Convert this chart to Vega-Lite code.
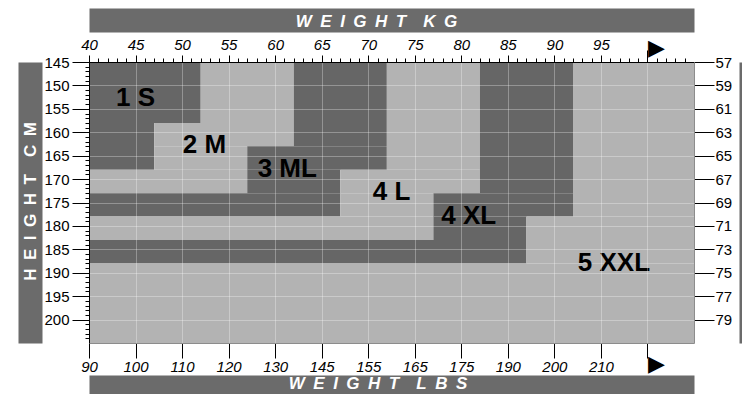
{
  "$schema": "https://vega.github.io/schema/vega-lite/v6.json",
  "width": 605,
  "height": 281,
  "autosize": "none",
  "padding": {"left": 89, "top": 62, "right": 48, "bottom": 51},
  "background": "white",
  "config": {
    "view": {"stroke": null},
    "axis": {"labelFont": "Liberation Sans", "titleFont": "Liberation Sans", "labelColor": "black", "labelFlush": false, "labelOverlap": false, "labelBound": false}
  },
  "datasets": {
    "regions": [
      {"size": "1 S", "shade": "dark", "x0": 40, "x1": 52, "y0": 145, "y1": 158},
      {"size": "1 S", "shade": "dark", "x0": 40, "x1": 47, "y0": 158, "y1": 168},
      {"size": "2 M", "shade": "light", "x0": 52, "x1": 62, "y0": 145, "y1": 158},
      {"size": "2 M", "shade": "light", "x0": 47, "x1": 62, "y0": 158, "y1": 163},
      {"size": "2 M", "shade": "light", "x0": 47, "x1": 57, "y0": 163, "y1": 168},
      {"size": "2 M", "shade": "light", "x0": 40, "x1": 57, "y0": 168, "y1": 173},
      {"size": "3 ML", "shade": "dark", "x0": 62, "x1": 72, "y0": 145, "y1": 163},
      {"size": "3 ML", "shade": "dark", "x0": 57, "x1": 72, "y0": 163, "y1": 168},
      {"size": "3 ML", "shade": "dark", "x0": 57, "x1": 67, "y0": 168, "y1": 173},
      {"size": "3 ML", "shade": "dark", "x0": 40, "x1": 67, "y0": 173, "y1": 178},
      {"size": "4 L", "shade": "light", "x0": 72, "x1": 82, "y0": 145, "y1": 168},
      {"size": "4 L", "shade": "light", "x0": 67, "x1": 82, "y0": 168, "y1": 173},
      {"size": "4 L", "shade": "light", "x0": 67, "x1": 77, "y0": 173, "y1": 178},
      {"size": "4 L", "shade": "light", "x0": 40, "x1": 77, "y0": 178, "y1": 183},
      {"size": "4 XL", "shade": "dark", "x0": 82, "x1": 92, "y0": 145, "y1": 173},
      {"size": "4 XL", "shade": "dark", "x0": 77, "x1": 92, "y0": 173, "y1": 178},
      {"size": "4 XL", "shade": "dark", "x0": 77, "x1": 87, "y0": 178, "y1": 183},
      {"size": "4 XL", "shade": "dark", "x0": 40, "x1": 87, "y0": 183, "y1": 188},
      {"size": "5 XXL", "shade": "light", "x0": 92, "x1": 105, "y0": 145, "y1": 178},
      {"size": "5 XXL", "shade": "light", "x0": 87, "x1": 105, "y0": 178, "y1": 188},
      {"size": "5 XXL", "shade": "light", "x0": 40, "x1": 105, "y0": 188, "y1": 205}
    ],
    "labels": [
      {"label": "1 S", "x": 45.0, "y": 152.7},
      {"label": "2 M", "x": 52.4, "y": 162.8},
      {"label": "3 ML", "x": 61.3, "y": 167.8},
      {"label": "4 L", "x": 72.5, "y": 172.8},
      {"label": "4 XL", "x": 80.8, "y": 177.9},
      {"label": "5 XXL", "x": 96.4, "y": 188.0}
    ]
  },
  "resolve": {"axis": {"x": "independent", "y": "independent"}},
  "layer": [
    {
      "data": {"name": "regions"},
      "mark": {"type": "rect"},
      "encoding": {
        "x": {
          "field": "x0", "type": "quantitative",
          "scale": {"domain": [40, 105], "nice": false, "zero": false},
          "axis": {
            "orient": "top", "title": null, "zindex": 1,
            "values": [40,41,42,43,44,45,46,47,48,49,50,51,52,53,54,55,56,57,58,59,60,61,62,63,64,65,66,67,68,69,70,71,72,73,74,75,76,77,78,79,80,81,82,83,84,85,86,87,88,89,90,91,92,93,94,95,96,97,98,99,100,101,102,103,104],
            "domain": true, "domainColor": "black", "domainWidth": 1,
            "ticks": true, "tickColor": "black", "tickWidth": 1,
            "tickSize": {"condition": [{"test": "datum.value == 100", "value": 12}, {"test": "datum.value % 5 == 0", "value": 7}], "value": 4},
            "labelExpr": "datum.value == 100 ? '▶' : (datum.value % 5 == 0 && datum.value <= 95 ? datum.label : '')",
            "labelFontSize": {"condition": {"test": "datum.value == 100", "value": 22}, "value": 15},
            "labelFontStyle": {"condition": {"test": "datum.value == 100", "value": "normal"}, "value": "italic"},
            "labelAlign": {"condition": {"test": "datum.value == 100", "value": "left"}, "value": "center"},
            "labelBaseline": {"condition": {"test": "datum.value == 100", "value": "middle"}, "value": "alphabetic"},
            "labelPadding": {"condition": {"test": "datum.value == 100", "value": 3}, "value": 6},
            "grid": true, "gridColor": "white", "gridWidth": 1,
            "gridOpacity": {"condition": {"test": "datum.value % 5 == 0 && datum.value > 40", "value": 0.3}, "value": 0}
          }
        },
        "x2": {"field": "x1"},
        "y": {
          "field": "y0", "type": "quantitative",
          "scale": {"domain": [145, 205], "reverse": true, "nice": false, "zero": false},
          "axis": {
            "orient": "left", "title": null, "zindex": 1,
            "values": [145,146,147,148,149,150,151,152,153,154,155,156,157,158,159,160,161,162,163,164,165,166,167,168,169,170,171,172,173,174,175,176,177,178,179,180,181,182,183,184,185,186,187,188,189,190,191,192,193,194,195,196,197,198,199,200,201,202,203,204],
            "domain": true, "domainColor": "black", "domainWidth": 1,
            "ticks": true, "tickColor": "black", "tickWidth": 1,
            "tickSize": {"condition": {"test": "datum.value % 5 == 0", "value": 17}, "value": 4},
            "labelExpr": "datum.value % 5 == 0 && datum.value <= 200 ? datum.label : ''",
            "labelFontSize": 15,
            "labelPadding": 3,
            "grid": true, "gridColor": "white", "gridWidth": 1,
            "gridOpacity": {"condition": {"test": "datum.value % 5 == 0 && datum.value > 145", "value": 0.3}, "value": 0}
          }
        },
        "y2": {"field": "y1"},
        "color": {
          "field": "shade", "type": "nominal", "legend": null,
          "scale": {"domain": ["dark", "light"], "range": ["#666666", "#b3b3b3"]}
        }
      }
    },
    {
      "data": {"name": "labels"},
      "mark": {"type": "text", "font": "Liberation Sans", "fontWeight": "bold", "fontSize": 26, "color": "black", "align": "center", "baseline": "middle"},
      "encoding": {
        "x": {
          "field": "x", "type": "quantitative",
          "scale": {"domain": [40, 105], "nice": false, "zero": false},
          "axis": {
            "orient": "bottom", "title": null, "zindex": 1,
            "values": [40,45,50,55,60,65,70,75,80,85,90,95,100],
            "domain": true, "domainColor": "#8c8c8c", "domainWidth": 1,
            "ticks": true, "tickColor": "black", "tickWidth": 1, "tickSize": 15,
            "labelExpr": "['90','100','110','120','130','145','155','165','175','190','200','210','▶'][round((datum.value - 40) / 5)]",
            "labelFontSize": {"condition": {"test": "datum.value == 100", "value": 22}, "value": 15},
            "labelFontStyle": {"condition": {"test": "datum.value == 100", "value": "normal"}, "value": "italic"},
            "labelAlign": {"condition": {"test": "datum.value == 100", "value": "left"}, "value": "center"},
            "labelBaseline": {"condition": {"test": "datum.value == 100", "value": "middle"}, "value": "top"},
            "labelPadding": {"condition": {"test": "datum.value == 100", "value": 5}, "value": 1},
            "grid": false
          }
        },
        "y": {
          "field": "y", "type": "quantitative",
          "scale": {"domain": [145, 205], "reverse": true, "nice": false, "zero": false},
          "axis": {
            "orient": "right", "title": null, "zindex": 1,
            "values": [145,150,155,160,165,170,175,180,185,190,195,200],
            "domain": true, "domainColor": "#8c8c8c", "domainWidth": 1,
            "ticks": true, "tickColor": "black", "tickWidth": 1, "tickSize": 20,
            "labelExpr": "'' + (57 + (datum.value - 145) / 5 * 2)",
            "labelFontSize": 15,
            "labelPadding": 1,
            "grid": false
          }
        },
        "text": {"field": "label", "type": "nominal"}
      }
    },
    {
      "data": {"name": "labels"},
      "mark": {"type": "point", "opacity": 0},
      "encoding": {
        "x": {
          "field": "x", "type": "quantitative",
          "scale": {"domain": [40, 105], "nice": false, "zero": false},
          "axis": {
            "orient": "top", "offset": 42, "zindex": 0,
            "domain": true, "domainWidth": 24, "domainColor": "#6b6b6b", "domainCap": "butt",
            "ticks": false, "labels": false, "grid": false,
            "title": "W\u2002E\u2002I\u2002G\u2002H\u2002T\u2002\u2002K\u2002G",
            "titleColor": "white", "titleFontSize": 17, "titleFontWeight": "bold", "titleFontStyle": "italic",
            "titleX": 287, "titleY": 6.5, "titleBaseline": "alphabetic", "titleAlign": "center", "titleAngle": 0
          }
        },
        "y": {
          "field": "y", "type": "quantitative",
          "scale": {"domain": [145, 205], "reverse": true, "nice": false, "zero": false},
          "axis": {
            "orient": "left", "offset": 59, "zindex": 0,
            "domain": true, "domainWidth": 24, "domainColor": "#6b6b6b", "domainCap": "butt",
            "ticks": false, "labels": false, "grid": false,
            "title": "H\u2002E\u2002I\u2002G\u2002H\u2002T\u2002\u2002C\u2002M",
            "titleColor": "white", "titleFontSize": 17, "titleFontWeight": "bold", "titleFontStyle": "normal",
            "titleX": 5.5, "titleY": 139, "titleBaseline": "alphabetic", "titleAlign": "center", "titleAngle": 270
          }
        }
      }
    },
    {
      "data": {"name": "labels"},
      "mark": {"type": "point", "opacity": 0},
      "encoding": {
        "x": {
          "field": "x", "type": "quantitative",
          "scale": {"domain": [40, 105], "nice": false, "zero": false},
          "axis": {
            "orient": "bottom", "offset": 44, "zindex": 0,
            "domain": true, "domainWidth": 24, "domainColor": "#6b6b6b", "domainCap": "butt",
            "ticks": false, "labels": false, "grid": false,
            "title": "W\u2002E\u2002I\u2002G\u2002H\u2002T\u2002\u2002L\u2002B\u2002S",
            "titleColor": "white", "titleFontSize": 17, "titleFontWeight": "bold", "titleFontStyle": "italic",
            "titleX": 288.5, "titleY": 1.5, "titleBaseline": "alphabetic", "titleAlign": "center", "titleAngle": 0
          }
        },
        "y": {
          "field": "y", "type": "quantitative",
          "scale": {"domain": [145, 205], "reverse": true, "nice": false, "zero": false},
          "axis": {
            "orient": "right", "offset": 48, "zindex": 0,
            "domain": true, "domainWidth": 6, "domainColor": "#6b6b6b", "domainCap": "butt",
            "ticks": false, "labels": false, "grid": false, "title": null
          }
        }
      }
    }
  ]
}
